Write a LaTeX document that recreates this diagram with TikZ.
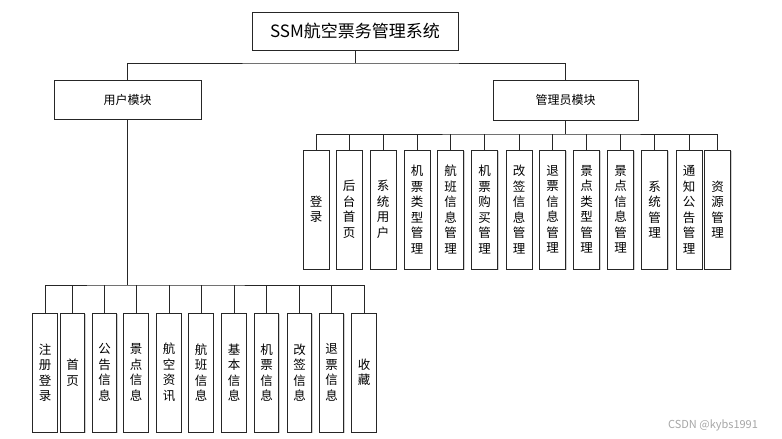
\documentclass[tikz,border=0pt]{standalone}
\usepackage{fontspec}
\setmainfont{Noto Sans CJK SC}
\usetikzlibrary{shadows}
\begin{document}
\begin{tikzpicture}[x=1pt,y=-1pt,
 box/.style={draw=black!85, line width=0.9pt, fill=white, inner sep=0pt, drop shadow={shadow xshift=1.2pt,shadow yshift=-1.2pt,fill=black!30,opacity=0.6}},
 titlebox/.style={box, minimum width=206pt, minimum height=38pt, font=\fontsize{17}{20}\selectfont},
 modbox/.style={box, minimum height=39pt, font=\fontsize{12}{14}\selectfont},
 leafa/.style={box, minimum width=26pt, minimum height=119pt, align=center, font=\fontsize{12.5}{15.5}\selectfont},
 leafu/.style={box, minimum width=24.5pt, minimum height=119pt, align=center, font=\fontsize{12.5}{15.5}\selectfont},
 wire/.style={draw=black!85, line width=0.9pt}]
\useasboundingbox (0,0) rectangle (782,439);
% title and modules
\node[titlebox] (root) at (355,31) {SSM航空票务管理系统};
\node[modbox, minimum width=147pt] (user) at (127.5,99.5) {用户模块};
\node[modbox, minimum width=145pt, minimum height=40pt] (adm) at (565.5,100) {管理员模块};
\coordinate (rb) at (355,63);
\draw[wire] (root.south) -- (rb);
\draw[wire] (user.north) |- (rb) -| (adm.north);
% admin leaves
\node[leafa] (a1) at (316,209.5) {登\\录};
\node[leafa] (a2) at (349,209.5) {后\\台\\首\\页};
\node[leafa] (a3) at (383,209.5) {系\\统\\用\\户};
\node[leafa] (a4) at (417,209.5) {机\\票\\类\\型\\管\\理};
\node[leafa] (a5) at (450.5,209.5) {航\\班\\信\\息\\管\\理};
\node[leafa] (a6) at (484.5,209.5) {机\\票\\购\\买\\管\\理};
\node[leafa] (a7) at (519,209.5) {改\\签\\信\\息\\管\\理};
\node[leafa] (a8) at (552.5,209.5) {退\\票\\信\\息\\管\\理};
\node[leafa] (a9) at (586.5,209.5) {景\\点\\类\\型\\管\\理};
\node[leafa] (a10) at (620.5,209.5) {景\\点\\信\\息\\管\\理};
\node[leafa] (a11) at (654.5,209.5) {系\\统\\管\\理};
\node[leafa] (a12) at (689,209.5) {通\\知\\公\\告\\管\\理};
\node[leafa] (a13) at (717.5,209.5) {资\\源\\管\\理};
\coordinate (ab) at (565.5,134);
\draw[wire] (adm.south) -- (ab);
\draw[wire] (a1.north) |- (ab) -| (a13.north);
\foreach \i in {2,...,12} \draw[wire] (a\i.north) -- (a\i.north |- ab);
% user leaves
\node[leafu] (u1) at (45,372.5) {注\\册\\登\\录};
\node[leafu] (u2) at (72.5,372.5) {首\\页};
\node[leafu] (u3) at (104.5,372.5) {公\\告\\信\\息};
\node[leafu] (u4) at (136,372.5) {景\\点\\信\\息};
\node[leafu] (u5) at (169,372.5) {航\\空\\资\\讯};
\node[leafu] (u6) at (201,372.5) {航\\班\\信\\息};
\node[leafu] (u7) at (234,372.5) {基\\本\\信\\息};
\node[leafu] (u8) at (266.5,372.5) {机\\票\\信\\息};
\node[leafu] (u9) at (299.5,372.5) {改\\签\\信\\息};
\node[leafu] (u10) at (331.5,372.5) {退\\票\\信\\息};
\node[leafu] (u11) at (364,372.5) {收\\藏};
\coordinate (ub) at (127.5,285);
\draw[wire] (user.south) -- (ub);
\draw[wire] (u1.north) |- (ub) -| (u11.north);
\foreach \i in {2,...,10} \draw[wire] (u\i.north) -- (u\i.north |- ub);
% watermark
\node[text=black!35, font=\fontsize{11}{13}\selectfont, inner sep=0pt] (wm) at (713,425) {CSDN @kybs1991};
\end{tikzpicture}
\end{document}
